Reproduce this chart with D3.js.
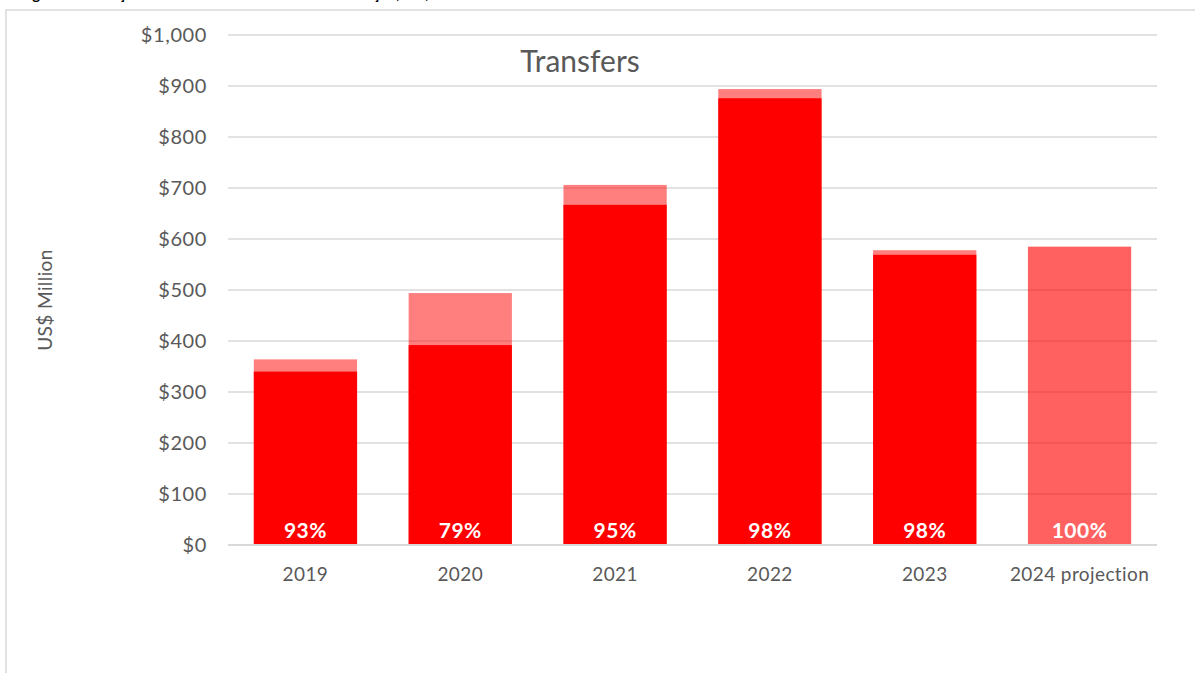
<!DOCTYPE html>
<html>
<head>
<meta charset="utf-8">
<script src="https://cdn.jsdelivr.net/npm/d3@7"></script>
<style>
  body { margin: 0; background: #fff; }
  svg { display: block; font-family: "Lato", "Open Sans", sans-serif; }
</style>
</head>
<body>
<div id="chart-container"></div>
<script>
// Data
const categories = ["2019", "2020", "2021", "2022", "2023", "2024 projection"];
const totalValues = [364, 494, 706, 894, 578, 585];
const transferredValues = [340, 392, 667, 876, 569, null];
const percentLabels = ["93%", "79%", "95%", "98%", "98%", "100%"];
const yTicks = [0, 100, 200, 300, 400, 500, 600, 700, 800, 900, 1000];

const W = 1195, H = 673;
const margin = { top: 35, right: 38, bottom: 128, left: 228 };

const svg = d3.select("#chart-container").append("svg")
    .attr("width", W)
    .attr("height", H);

// caption above the chart box (cut off by the page edge, as in the source)
svg.append("text")
    .attr("x", 20)
    .attr("y", -1)
    .attr("font-size", 15)
    .attr("font-weight", "bold")
    .attr("fill", "#000")
    .text("Figura 1: Evolução das transferências e taxa de execução, US$ milhões");

// chart box
svg.append("rect")
    .attr("x", 6).attr("y", 10)
    .attr("width", 1200).attr("height", 700)
    .attr("fill", "#fff")
    .attr("stroke", "#d9d9d9")
    .attr("stroke-width", 1.5);

const width = W - margin.left - margin.right;
const height = H - margin.top - margin.bottom;

const g = svg.append("g")
    .attr("transform", `translate(${margin.left},${margin.top})`);

const x = d3.scaleBand()
    .domain(categories)
    .range([0, width])
    .paddingInner(0.333)
    .paddingOuter(0.1667);

const y = d3.scaleLinear()
    .domain([0, 1000])
    .range([height, 0]);

// gridlines
g.append("g")
    .selectAll("line")
    .data(yTicks)
    .join("line")
    .attr("x1", 0)
    .attr("x2", width)
    .attr("y1", d => y(d))
    .attr("y2", d => y(d))
    .attr("stroke", "#d9d9d9")
    .attr("stroke-width", 1.5);

// y axis labels
g.append("g")
    .call(d3.axisLeft(y).tickValues(yTicks).tickSize(0).tickPadding(21)
        .tickFormat(d => "$" + d3.format(",")(d)))
    .call(a => a.select(".domain").remove())
    .selectAll("text")
    .attr("font-size", 20)
    .attr("font-family", "Lato, sans-serif")
    .attr("letter-spacing", 0.6)
    .attr("fill", "#595959");

// total bars (semi-transparent)
g.append("g")
    .selectAll("rect")
    .data(categories)
    .join("rect")
    .attr("x", d => x(d))
    .attr("width", x.bandwidth())
    .attr("y", (d, i) => y(totalValues[i]))
    .attr("height", (d, i) => y(0) - y(totalValues[i]))
    .attr("fill", (d, i) => transferredValues[i] === null ? "rgba(255,0,0,0.62)" : "rgba(255,0,0,0.5)");

// transferred bars
g.append("g")
    .selectAll("rect")
    .data(categories.filter((d, i) => transferredValues[i] !== null))
    .join("rect")
    .attr("x", d => x(d))
    .attr("width", x.bandwidth())
    .attr("y", d => y(transferredValues[categories.indexOf(d)]))
    .attr("height", d => y(0) - y(transferredValues[categories.indexOf(d)]))
    .attr("fill", "#ff0000");

// baseline
g.append("line")
    .attr("x1", 0).attr("x2", width)
    .attr("y1", y(0)).attr("y2", y(0))
    .attr("stroke", "#d9d9d9")
    .attr("stroke-width", 2);

// percent labels
g.append("g")
    .selectAll("text")
    .data(categories)
    .join("text")
    .attr("x", d => x(d) + x.bandwidth() / 2)
    .attr("y", y(0) - 7)
    .attr("text-anchor", "middle")
    .attr("font-size", 21)
    .attr("font-weight", "bold")
    .attr("letter-spacing", 0.5)
    .attr("fill", "#fff")
    .text((d, i) => percentLabels[i]);

// x axis labels
g.append("g")
    .attr("transform", `translate(0,${height})`)
    .call(d3.axisBottom(x).tickSize(0).tickPadding(23))
    .call(a => a.select(".domain").remove())
    .selectAll("text")
    .attr("font-size", 19)
    .attr("font-family", "Lato, sans-serif")
    .attr("letter-spacing", 0.4)
    .attr("fill", "#595959");

// title
svg.append("text")
    .attr("x", 580)
    .attr("y", 72)
    .attr("text-anchor", "middle")
    .attr("font-size", 30)
    .attr("fill", "#595959")
    .text("Transfers");

// y axis title
svg.append("text")
    .attr("transform", "translate(52,300) rotate(-90)")
    .attr("text-anchor", "middle")
    .attr("font-size", 19)
    .attr("letter-spacing", 0.4)
    .attr("fill", "#595959")
    .text("US$ Million");
</script>
</body>
</html>
